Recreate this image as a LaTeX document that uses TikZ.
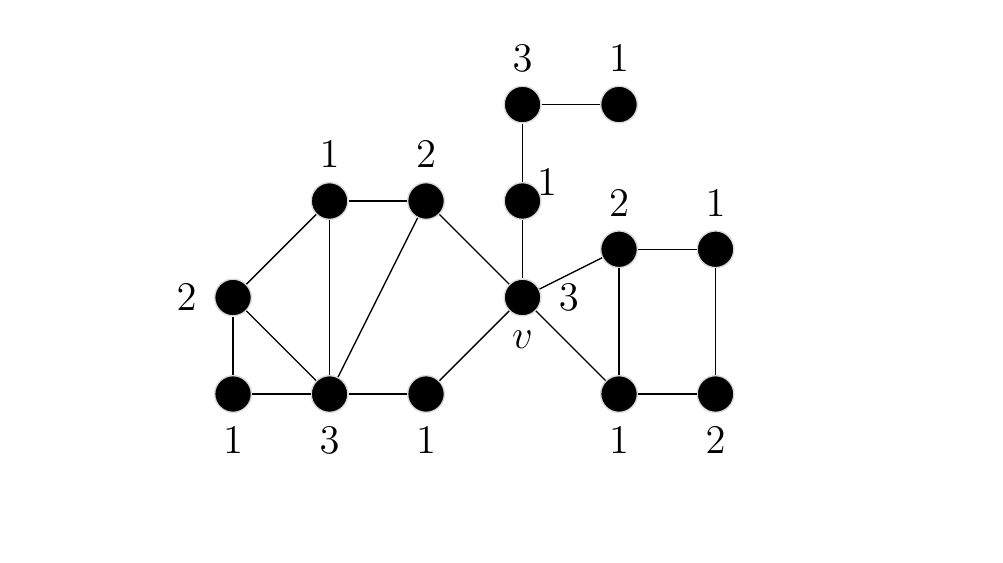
\documentclass[tikz,border=0pt]{standalone}
\begin{document}
\begin{tikzpicture}[
        vtx/.style={circle, fill=black, draw=gray!30, minimum size=0.38cm, inner sep=0pt},
        every label/.style={font=\fontsize{13}{15}\selectfont},
        label distance=0.6pt
    ]
    \useasboundingbox (-2.415,-1.741) rectangle (7.979,4.083);

    % === Left block ===
    \node[vtx, label={[xshift=-1pt]left:$2$}] (a) at (0,1) {};
    \node[vtx, label=below:$1$] (b) at (0,0) {};
    \node[vtx, label=below:$3$] (c) at (1,0) {};
    \node[vtx, label=below:$1$] (d) at (2,0) {};
    \node[vtx, label=above:$1$] (e) at (1,2) {};
    \node[vtx, label=above:$2$] (f) at (2,2) {};

    % === Middle (v and the path up) ===
    \node[vtx, label=below:$v$, label={[xshift=1pt]right:$3$}] (v) at (3,1) {};
    \node[vtx, label={[shift={(-0.19,0.19)}]right:$1$}] (g) at (3,2) {};
    \node[vtx, label=above:$3$] (h) at (3,3) {};
    \node[vtx, label=above:$1$] (i) at (4,3) {};

    % === Right square ===
    \node[vtx, label=above:$2$] (j) at (4,1.5) {};
    \node[vtx, label=above:$1$] (k) at (5,1.5) {};
    \node[vtx, label=below:$1$] (l) at (4,0) {};
    \node[vtx, label=below:$2$] (m) at (5,0) {};

    % === Edges ===
    \draw (a) -- (b);
    \draw (a) -- (e);
    \draw (a) -- (c);
    \draw (b) -- (c);
    \draw (c) -- (e);
    \draw (c) -- (f);
    \draw (c) -- (d);
    \draw (e) -- (f);
    \draw (f) -- (v);
    \draw (d) -- (v);
    \draw (v) -- (g);
    \draw (g) -- (h);
    \draw (h) -- (i);
    \draw (v) -- (j);
    \draw (v) -- (l);
    \draw (j) -- (k);
    \draw (j) -- (l);
    \draw (k) -- (m);
    \draw (l) -- (m);

\end{tikzpicture}
\end{document}
